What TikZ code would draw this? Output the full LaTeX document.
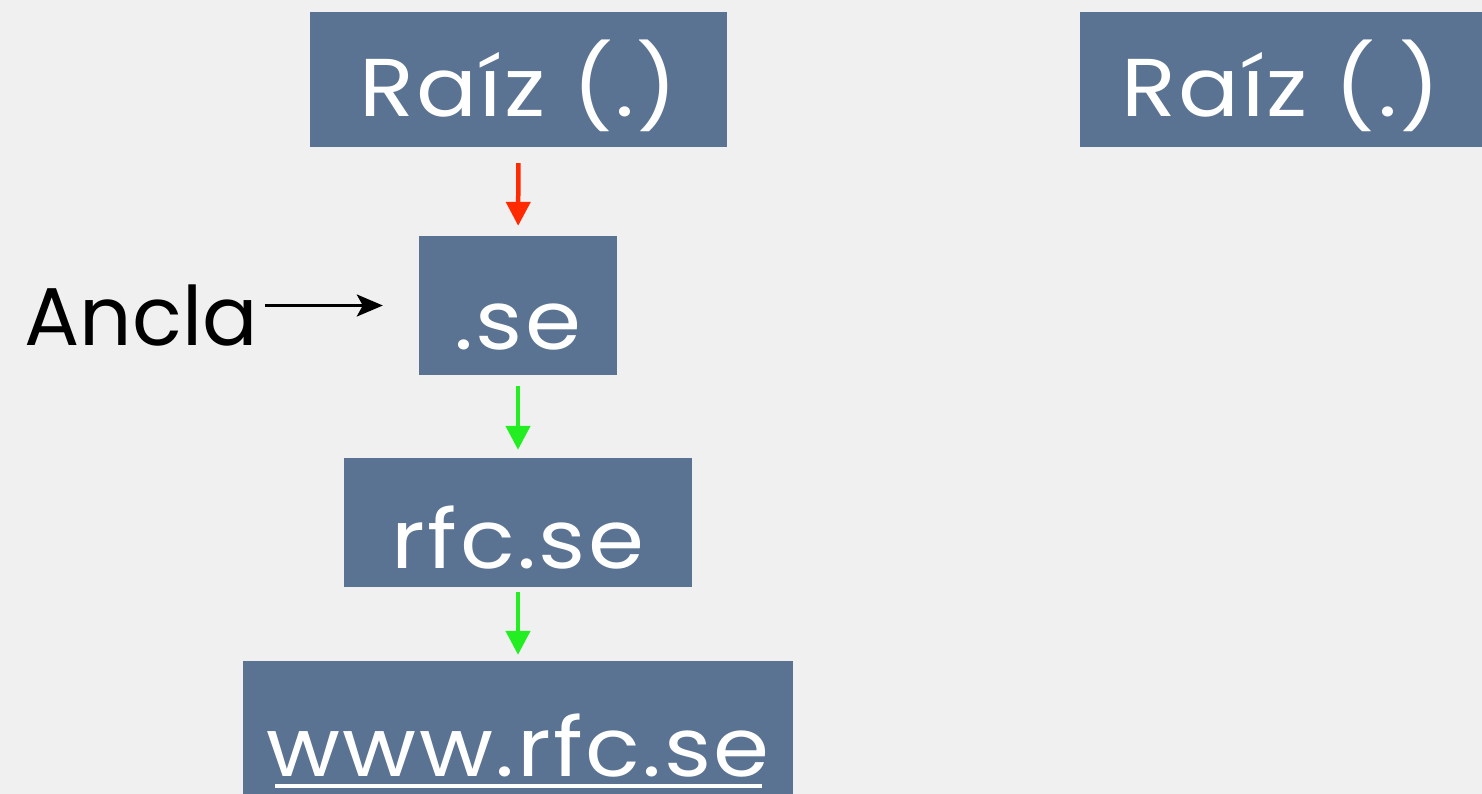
\documentclass[tikz,border=0pt]{standalone}
\usepackage{fontspec}
\setmainfont{Poppins}
\newfontfamily\zonefont[FakeStretch=1.1, LetterSpace=3]{Poppins}
\usetikzlibrary{arrows.meta}
\definecolor{boxfill}{HTML}{5B7392}
\definecolor{paper}{HTML}{F0F0F0}
\definecolor{redarrow}{HTML}{FF2A00}
\definecolor{greenarrow}{HTML}{22EE22}
\tikzset{
  zone/.style={fill=boxfill, inner sep=0pt, text=white, text depth=0pt,
    font=\zonefont\fontsize{82}{90}\selectfont},
  downlink/.style={line width=4.5pt, -{Triangle[length=24pt,width=24pt]}},
}
\begin{document}
\begin{tikzpicture}[x=1pt,y=-1pt]
  \useasboundingbox (0,0) rectangle (1482,794);
  \fill[paper] (0,0) rectangle (1482,794);

  % DNS chain of trust
  \node[zone, minimum width=417pt, minimum height=135pt, text height=75pt] (root) at (518.5,79.5) {Raíz (.)};
  \node[zone, minimum width=198pt, minimum height=139pt, text height=87pt] (se) at (518,305.5) {.se};
  \node[zone, minimum width=348pt, minimum height=129pt, text height=91pt] (rfc) at (518,522.5) {rfc.se};
  \node[zone, minimum width=550pt, minimum height=133pt, text height=97pt] (www) at (518,727.5) {www.rfc.se};
  \draw[white, line width=4.5pt] ([xshift=32pt]www.west |- 0,786) -- ([xshift=-31pt]www.east |- 0,786);

  % second root
  \node[zone, minimum width=402pt, minimum height=135pt, text height=75pt] (root2) at (1281,79.5) {Raíz (.)};

  % trust anchor
  \node[anchor=base east, inner sep=0pt, font=\fontsize{82}{90}\selectfont] (anc) at (258,345) {Ancla};

  \draw[downlink, redarrow, shorten <=16pt, shorten >=10pt] (root) -- (se);
  \draw[downlink, greenarrow, shorten <=11pt, shorten >=8pt] (se) -- (rfc);
  \draw[downlink, greenarrow, shorten <=5pt, shorten >=6pt] (rfc) -- (www);
  \draw[line width=3pt, -{Stealth[length=26pt,width=22pt,inset=6pt]}, shorten <=7pt, shorten >=36pt] (anc.east |- se) -- (se);
\end{tikzpicture}
\end{document}
